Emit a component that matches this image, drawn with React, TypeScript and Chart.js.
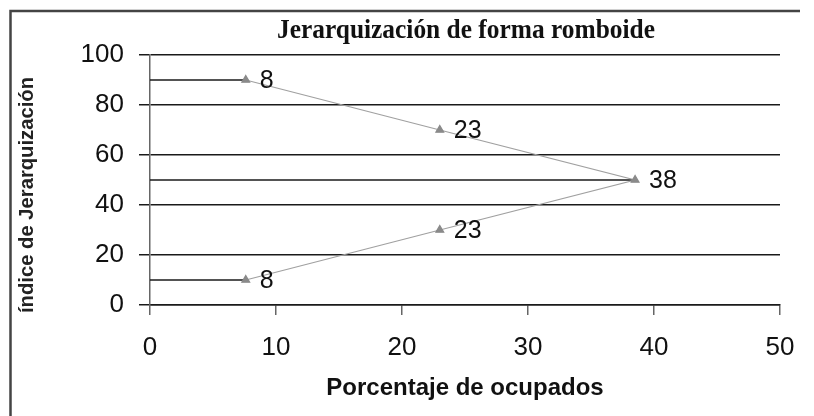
import React, { useEffect, useRef } from "react";
import { Chart, registerables } from "chart.js";

Chart.register(...registerables);

const chartTitle = "Jerarquización de forma romboide";
const xAxisTitle = "Porcentaje de ocupados";
const yAxisTitle = "índice de Jerarquización";

const occupiedPct = [7.6, 23, 38.5, 23, 7.6];
const hierarchyIndex = [90, 70, 50, 30, 10];
const pointLabels = ["8", "23", "38", "23", "8"];
const guideLevels = [90, 50, 10];

const xTicks = [0, 10, 20, 30, 40, 50];
const yTicks = [0, 20, 40, 60, 80, 100];

export default function App() {
  const ref = useRef<HTMLCanvasElement | null>(null);

  useEffect(() => {
    if (!ref.current) return;

    const mainPoints = occupiedPct.map((x, i) => ({ x, y: hierarchyIndex[i] }));
    const guideSets = guideLevels.map((lvl) => {
      const idx = hierarchyIndex.indexOf(lvl);
      return {
        type: "line" as const,
        data: [
          { x: xTicks[0], y: lvl },
          { x: occupiedPct[idx], y: lvl },
        ],
        borderColor: "#1a1a1a",
        borderWidth: 1.5,
        pointRadius: 0,
        showLine: true,
        fill: false,
      };
    });

    const decor = {
      id: "decor",
      afterDatasetsDraw(chart: any) {
        const ctx = chart.ctx;
        const meta = chart.getDatasetMeta(0);
        ctx.save();
        ctx.fillStyle = "#111";
        ctx.font = "25px 'Liberation Sans', Arial, sans-serif";
        ctx.textAlign = "left";
        ctx.textBaseline = "middle";
        meta.data.forEach((el: any, i: number) => {
          ctx.fillText(pointLabels[i], el.x + 14, el.y + 1);
        });
        ctx.restore();
      },
      afterDraw(chart: any) {
        const ctx = chart.ctx;
        const area = chart.chartArea;
        ctx.save();
        // frame
        ctx.strokeStyle = "#444";
        ctx.lineWidth = 2.5;
        ctx.beginPath();
        ctx.moveTo(10.5, 416);
        ctx.lineTo(10.5, 11);
        ctx.lineTo(800, 11);
        ctx.stroke();
        // main title
        ctx.save();
        ctx.fillStyle = "#111";
        ctx.font = "bold 28px 'Liberation Serif', 'Times New Roman', serif";
        ctx.textAlign = "center";
        ctx.textBaseline = "middle";
        const tw = ctx.measureText(chartTitle).width;
        ctx.translate((area.left + area.right) / 2 + 1, 31);
        ctx.scale(378 / tw, 1);
        ctx.fillText(chartTitle, 0, 0);
        ctx.restore();
        // y title
        ctx.font = "bold 20px 'Liberation Sans', Arial, sans-serif";
        ctx.textAlign = "center";
        ctx.textBaseline = "middle";
        const w = ctx.measureText(yAxisTitle).width;
        ctx.translate(27, 195);
        ctx.rotate(-Math.PI / 2);
        ctx.scale(236 / w, 1);
        ctx.fillStyle = "#222";
        ctx.fillText(yAxisTitle, 0, 0);
        ctx.restore();
      },
    };

    const chart = new Chart(ref.current, {
      type: "scatter",
      data: {
        datasets: [
          {
            type: "line",
            data: mainPoints,
            borderColor: "#a0a0a0",
            borderWidth: 1.2,
            pointStyle: "triangle",
            pointRadius: 4.5,
            pointBackgroundColor: "#8a8a8a",
            pointBorderColor: "#8a8a8a",
            showLine: true,
            fill: false,
            tension: 0,
          } as any,
          ...(guideSets as any[]),
        ],
      },
      options: {
        animation: false,
        responsive: false,
        maintainAspectRatio: false,
        layout: { padding: { top: 55, right: 34, left: 0, bottom: 0 } },
        plugins: {
          legend: { display: false },
          tooltip: { enabled: false },
          title: { display: false },
        },
        scales: {
          x: {
            type: "linear",
            min: xTicks[0],
            max: xTicks[xTicks.length - 1],
            afterFit: (s: any) => {
              s.height = 111;
            },
            afterBuildTicks: (s: any) => {
              s.ticks = xTicks.map((v) => ({ value: v }));
            },
            ticks: {
              padding: 17,
              color: "#111",
              font: { family: "'Liberation Sans', Arial, sans-serif", size: 26 },
            },
            grid: {
              display: true,
              drawOnChartArea: false,
              drawTicks: true,
              tickLength: 10,
              color: "#666",
              lineWidth: 1.5,
            },
            border: { display: true, color: "#1a1a1a", width: 1.5 },
            title: {
              display: true,
              text: xAxisTitle,
              color: "#111",
              font: { family: "'Liberation Sans', Arial, sans-serif", size: 24, weight: "bold" },
              padding: { top: 0, bottom: 13 },
            },
          },
          y: {
            type: "linear",
            min: yTicks[0],
            max: yTicks[yTicks.length - 1],
            afterFit: (s: any) => {
              s.width = 150;
            },
            afterBuildTicks: (s: any) => {
              s.ticks = yTicks.map((v) => ({ value: v }));
            },
            ticks: {
              padding: 15,
              color: "#111",
              font: { family: "'Liberation Sans', Arial, sans-serif", size: 26 },
            },
            grid: {
              display: true,
              drawTicks: true,
              tickLength: 11,
              color: "#1a1a1a",
              lineWidth: 1.5,
            },
            border: { display: true, color: "#666", width: 1.5 },
          },
        },
      },
      plugins: [decor],
    } as any);

    return () => chart.destroy();
  }, []);

  return (
    <div style={{ position: "fixed", left: 0, top: 0, width: 814, height: 416, background: "#fff" }}>
      <canvas ref={ref} width={814} height={416} style={{ display: "block" }} />
    </div>
  );
}
